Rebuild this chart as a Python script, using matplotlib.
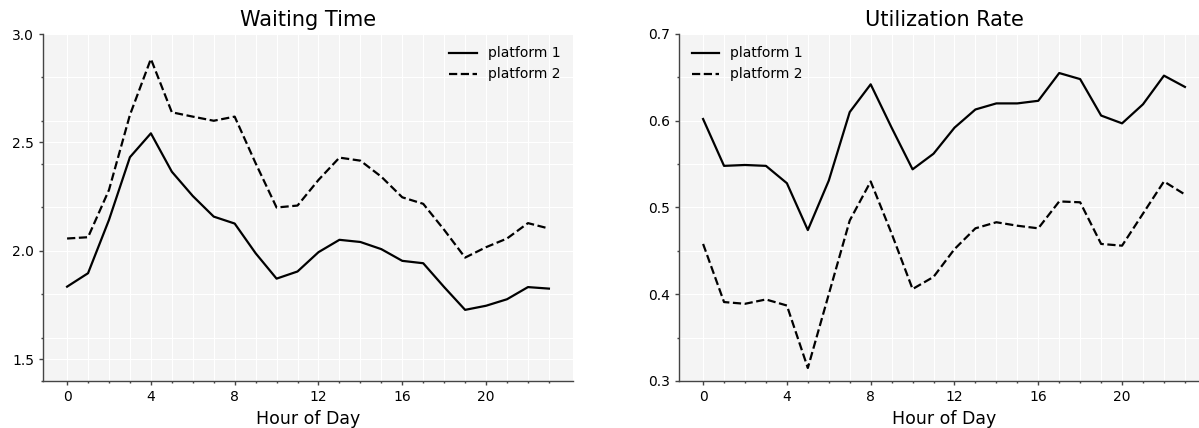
import matplotlib
matplotlib.use("Agg")
import matplotlib.pyplot as plt
from matplotlib.ticker import MultipleLocator, FixedLocator

hours = list(range(24))
hour_ticks = [0, 4, 8, 12, 16, 20]

wait_p1 = [1.835, 1.897, 2.143, 2.432, 2.542, 2.365, 2.253, 2.158, 2.126, 1.989,
           1.872, 1.905, 1.994, 2.051, 2.041, 2.008, 1.954, 1.943, 1.833, 1.728,
           1.747, 1.777, 1.833, 1.826]
wait_p2 = [2.057, 2.063, 2.281, 2.627, 2.885, 2.639, 2.619, 2.600, 2.619, 2.404,
           2.200, 2.209, 2.327, 2.430, 2.416, 2.342, 2.247, 2.217, 2.097, 1.969,
           2.017, 2.057, 2.128, 2.103]

util_p1 = [0.602, 0.548, 0.549, 0.548, 0.528, 0.474, 0.531, 0.610, 0.642, 0.592,
           0.544, 0.562, 0.592, 0.613, 0.620, 0.620, 0.623, 0.655, 0.648, 0.606,
           0.597, 0.619, 0.652, 0.639]
util_p2 = [0.458, 0.391, 0.389, 0.394, 0.387, 0.315, 0.400, 0.485, 0.530, 0.470,
           0.406, 0.420, 0.452, 0.476, 0.483, 0.479, 0.476, 0.507, 0.506, 0.458,
           0.456, 0.493, 0.530, 0.515]

labels = ["platform 1", "platform 2"]

plt.rcParams["font.family"] = "DejaVu Sans"

fig = plt.figure(figsize=(11.99, 4.28), dpi=100)
W, H = 1199.0, 428.0
ax1 = fig.add_axes([43 / W, 47 / H, 530 / W, 347 / H])
ax2 = fig.add_axes([679 / W, 47 / H, 530 / W, 347 / H])


def style(ax, title, ymin, ymax, ymaj, ymin_step):
    ax.set_facecolor("#f4f4f4")
    for s in ["top", "right"]:
        ax.spines[s].set_visible(False)
    for s in ["left", "bottom"]:
        ax.spines[s].set_color("#444444")
        ax.spines[s].set_linewidth(1.0)
    ax.set_ylim(ymin, ymax)
    ax.xaxis.set_major_locator(FixedLocator(hour_ticks))
    ax.xaxis.set_minor_locator(FixedLocator(hours))
    ax.yaxis.set_major_locator(MultipleLocator(ymaj))
    ax.yaxis.set_minor_locator(MultipleLocator(ymin_step))
    ax.grid(True, which="both", color="white", linewidth=0.8)
    ax.set_axisbelow(True)
    ax.tick_params(which="major", length=3, width=1, color="#444444", labelsize=10)
    ax.tick_params(which="minor", length=1.5, width=1, color="#444444")
    ax.set_title(title, fontsize=15)
    ax.set_xlabel("Hour of Day", fontsize=12.5)


ax1.plot(hours, wait_p1, color="black", lw=1.6, label=labels[0])
ax1.plot(hours, wait_p2, color="black", lw=1.6, ls="--", label=labels[1])
style(ax1, "Waiting Time", 1.4, 3.0, 0.5, 0.2)
ax1.legend(loc="upper right", frameon=False, fontsize=10)

ax2.plot(hours, util_p1, color="black", lw=1.6, label=labels[0])
ax2.plot(hours, util_p2, color="black", lw=1.6, ls="--", label=labels[1])
style(ax2, "Utilization Rate", 0.3, 0.7, 0.1, 0.05)
ax2.legend(loc="upper left", frameon=False, fontsize=10)

fig.savefig("out.png", dpi=100)
